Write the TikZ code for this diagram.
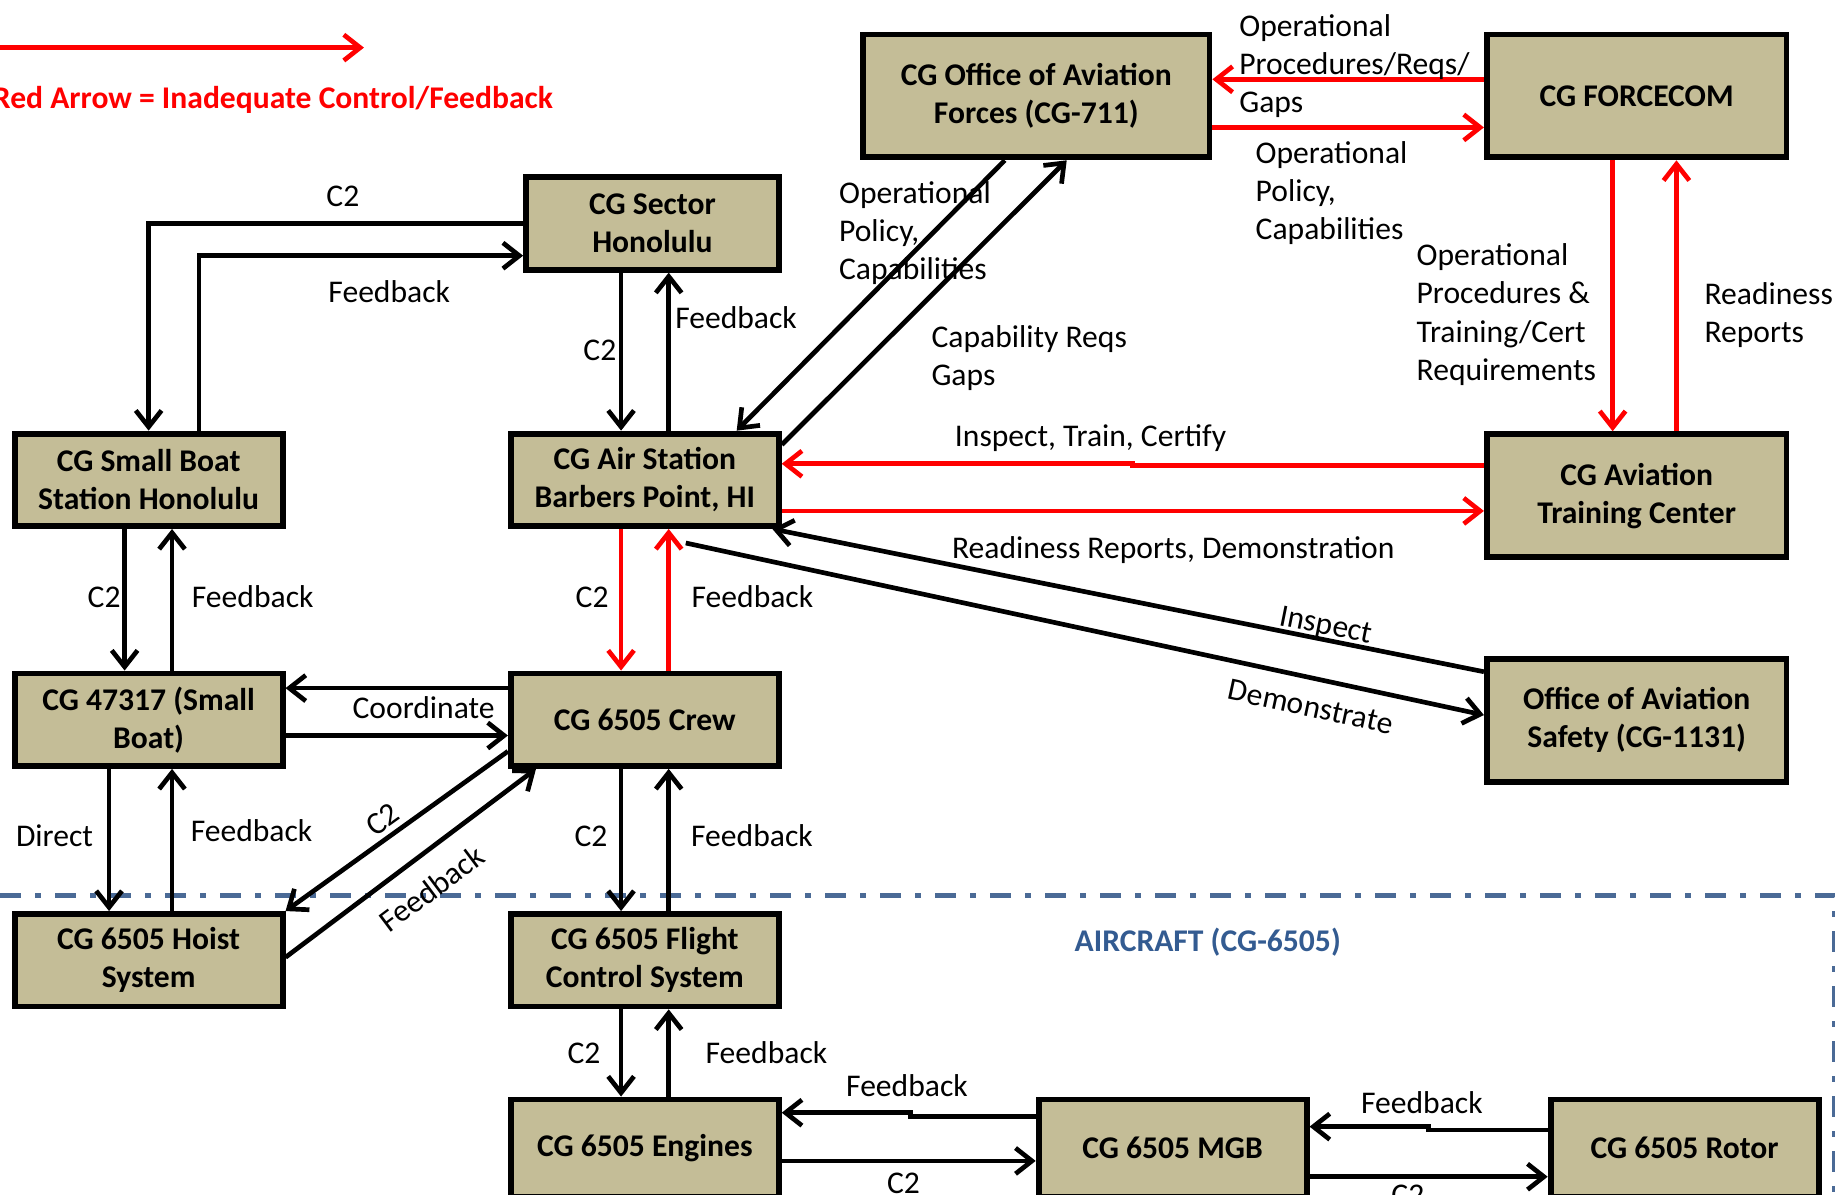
\documentclass[tikz,border=0pt]{standalone}
\usepackage{fontspec}
\setmainfont{Carlito}
\usetikzlibrary{arrows.meta,calc}
\definecolor{boxtan}{HTML}{C4BD97}
\definecolor{zoneblue}{HTML}{4A6A96}
\definecolor{zonetext}{HTML}{335B91}
\tikzset{every picture/.style={line width=2pt}}
\tikzset{>={Straight Barb[length=7pt,width=11pt]}}
\tikzset{box/.style={draw, line width=2.5pt, fill=boxtan, font=\bfseries, align=center,
    minimum width=114.5pt, minimum height=39.5pt, inner sep=1pt}}
\tikzset{bigbox/.style={box, minimum width=128pt, minimum height=52.5pt}}
\tikzset{lowbox/.style={box, minimum height=41.5pt}}
\tikzset{lbl/.style={inner sep=0pt, align=left, text=black}}
\tikzset{zone/.style={zoneblue, line width=2.25pt, dash pattern=on 9pt off 6pt on 2.5pt off 6pt}}

\begin{document}
\fontsize{13.5}{16.25}\selectfont
\begin{tikzpicture}[x=0.5pt, y=-0.5pt]
          \useasboundingbox (0,0) rectangle (1568,1021.1);
          % legend
          \coordinate (lega) at (-5,40.7);
          \coordinate (legb) at (311,40.7);
          \draw[red, ->] (lega) -- (legb);
          \node[lbl, anchor=base east, text=red, font=\bfseries] (legend) at (474.5,93) {Red Arrow = Inadequate Control/Feedback};
          % aircraft boundary
          \coordinate (zonel) at (0,765);
          \coordinate (zoner) at (1567.5,765);
          \coordinate (zoneb) at (1567.5,1030);
          \draw[zone] (zonel) -- (zoner) -- (zoneb);
          \node[lbl, anchor=base, text=zonetext, font=\bfseries] (aircraft) at (1032,813.3) {AIRCRAFT (CG-6505)};
          % controllers and components
          \node[box, minimum width=148pt, minimum height=52.5pt] (cg711) at (885.5,82) {CG Office of Aviation\\Forces (CG-711)};
          \node[bigbox] (forcecom) at (1398.5,82) {CG FORCECOM};
          \node[box, minimum width=108pt] (sector) at (557.5,191) {CG Sector\\Honolulu};
          \node[box] (sbs) at (127,410) {CG Small Boat\\Station Honolulu};
          \node[box] (air) at (551,410) {CG Air Station\\Barbers Point, HI};
          \node[bigbox] (atc) at (1398.5,423.5) {CG Aviation\\Training Center};
          \node[box] (smallboat) at (127,615) {CG 47317 (Small\\Boat)};
          \node[box] (crew) at (551,615) {CG 6505 Crew};
          \node[bigbox] (oas) at (1398.5,615.5) {Office of Aviation\\Safety (CG-1131)};
          \node[box] (hoist) at (127,820.5) {CG 6505 Hoist\\System};
          \node[box] (fcs) at (551,820.5) {CG 6505 Flight\\Control System};
          \node[lowbox] (engines) at (551,981) {CG 6505 Engines};
          \node[lowbox] (mgb) at (1002,981) {CG 6505 MGB};
          \node[lowbox] (rotor) at (1439.5,981) {CG 6505 Rotor};
          % sector
          \draw[->] (sector.west) -| (sbs.north) node[lbl, anchor=base] at (293,176.2) {C2};
          \draw[->] (sbs.north -| 170,0) |- (sector.west |- 0,218.5) node[lbl, anchor=base] at (332.6,258.7) {Feedback};
          \draw[->] (sector.south -| 530.7,0) -- (air.north -| 530.7,0) node[lbl, anchor=base] at (512.6,308.2) {C2};
          \draw[->] (air.north -| 571.4,0) -- (sector.south -| 571.4,0) node[lbl, anchor=base west] at (575,280.7) {Feedback};
          % CG-711 and FORCECOM
          \draw[->] (cg711.south -| 858.6,0) -- (air.north -| 629.5,0) node[lbl, anchor=north west] at (715,153) {Operational\\Policy,\\Capabilities};
          \draw[->] (air.east |- 0,380) -- (cg711.south -| 911.5,0) node[lbl, anchor=north west] at (794,276) {Capability Reqs\\Gaps};
          \draw[red, ->] (forcecom.west |- 0,67.8) -- (cg711.east |- 0,67.8) node[lbl, anchor=north west] at (1057,10.5) {Operational\\Procedures/Reqs/\\Gaps};
          \draw[red, ->] (cg711.east |- 0,108.9) -- (forcecom.west |- 0,108.9) node[lbl, anchor=north west] at (1071,119) {Operational\\Policy,\\Capabilities};
          \draw[red, ->] (forcecom.south -| 1378,0) -- (atc.north -| 1378,0) node[lbl, anchor=north west] at (1208.5,206.5) {Operational\\Procedures \&\\Training/Cert\\Requirements};
          \draw[red, ->] (atc.north -| 1432.5,0) -- (forcecom.south -| 1432.5,0) node[lbl, anchor=north west] at (1454.5,239.5) {Readiness\\Reports};
          % training center and safety
          \draw[red, ->] (atc.west |- 0,398) -| (967.8,396.3) -- (air.east |- 0,396.3) node[lbl, anchor=base west] at (814,381.7) {Inspect, Train, Certify};
          \draw[red, ->] (air.east |- 0,436.6) -- (atc.west |- 0,436.6) node[lbl, anchor=base west] at (811.5,477) {Readiness Reports, Demonstration};
          \draw[->] (oas.west |- 0,574) -- ($(air.south east)+(-8,0)$) node[lbl, rotate=-11.4] at (1133,535.6) {Inspect};
          \draw[->] ($(air.south)+(35,12)$) -- (oas.west |- 0,611) node[lbl, rotate=-12.2] at (1120,604) {Demonstrate};
          % air station and crew
          \draw[red, ->] (air.south -| 530.7,0) -- (crew.north -| 530.7,0) node[lbl, anchor=base] at (506,518.7) {C2};
          \draw[red, ->] (crew.north -| 571.4,0) -- (air.south -| 571.4,0) node[lbl, anchor=base west] at (589,518.7) {Feedback};
          % small boat
          \draw[->] (sbs.south -| 106.5,0) -- (smallboat.north -| 106.5,0) node[lbl, anchor=base] at (89,518.7) {C2};
          \draw[->] (smallboat.north -| 147,0) -- (sbs.south -| 147,0) node[lbl, anchor=base west] at (162,518.7) {Feedback};
          \draw[->] (crew.west |- 0,588) -- (smallboat.east |- 0,588) node[lbl, anchor=base] at (362,613.7) {Coordinate};
          \draw[->] (smallboat.east |- 0,628.5) -- (crew.west |- 0,628.5);
          \draw[->] (smallboat.south -| 93.2,0) -- (hoist.north -| 93.2,0) node[lbl, anchor=base] at (46.6,723.2) {Direct};
          \draw[->] (hoist.north -| 147,0) -- (smallboat.south -| 147,0) node[lbl, anchor=base west] at (161,718.7) {Feedback};
          % crew and aircraft
          \draw[->] (crew.west |- 0,642) -- (hoist.north east) node[lbl, rotate=35.6] at (327,700) {C2};
          \draw[->] (hoist.east |- 0,818) -- (crew.south -| 458,0) node[lbl, rotate=36.9] at (369,759) {Feedback};
          \draw[->] (crew.south -| 530.7,0) -- (fcs.north -| 530.7,0) node[lbl, anchor=base] at (505,723.2) {C2};
          \draw[->] (fcs.north -| 571.4,0) -- (crew.south -| 571.4,0) node[lbl, anchor=base west] at (588.6,723.2) {Feedback};
          \draw[->] (fcs.south -| 530.7,0) -- (engines.north -| 530.7,0) node[lbl, anchor=base] at (499,908.7) {C2};
          \draw[->] (engines.north -| 571.4,0) -- (fcs.south -| 571.4,0) node[lbl, anchor=base west] at (601,908.7) {Feedback};
          \draw[->] (mgb.west |- 0,954.3) -| (778,950.8) -- (engines.east |- 0,950.8) node[lbl, anchor=base] at (775,937.3) {Feedback};
          \draw[->] (engines.east |- 0,992) -- (mgb.west |- 0,992) node[lbl, anchor=base] at (772,1019.7) {C2};
          \draw[->] (rotor.west |- 0,965.6) -| (1220.6,962.7) -- (mgb.east |- 0,962.7) node[lbl, anchor=base] at (1215,951.3) {Feedback};
          \draw[->] (mgb.east |- 0,1005.5) -- (rotor.west |- 0,1005.5) node[lbl, anchor=base] at (1203,1029.7) {C2};
        \end{tikzpicture}
\end{document}
